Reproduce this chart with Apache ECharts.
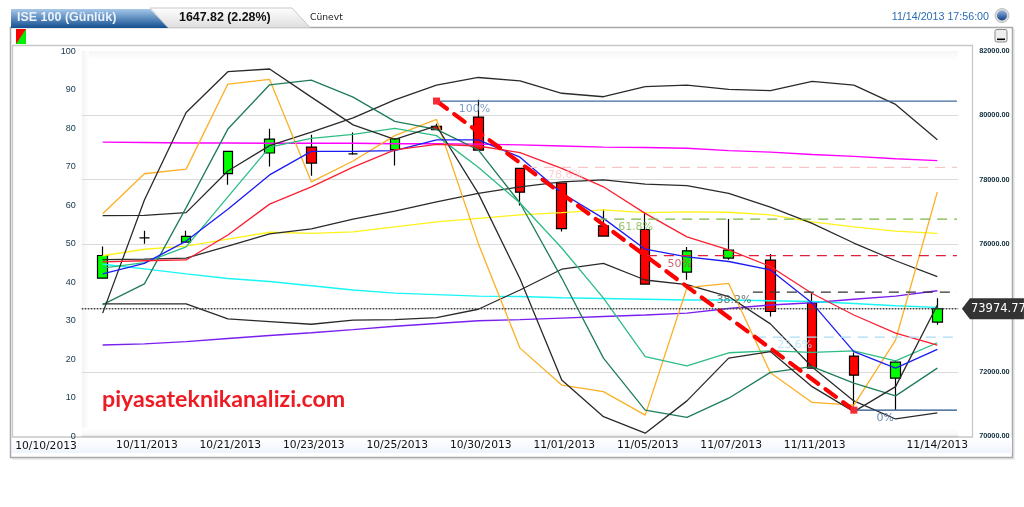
<!DOCTYPE html>
<html>
<head>
<meta charset="utf-8">
<title>ISE 100</title>
<style>
  html, body { margin: 0; padding: 0; background: #fff; }
  #chart { width: 1024px; height: 507px; }
</style>
<script src="https://cdn.jsdelivr.net/npm/echarts@6/dist/echarts.min.js"></script>
</head>
<body>
<div id="chart"></div>
<script>
const dates = ["10/10/2013","10/11/2013","10/14/2013","10/21/2013","10/22/2013","10/23/2013","10/24/2013",
  "10/25/2013","10/28/2013","10/30/2013","10/31/2013","11/01/2013","11/04/2013","11/05/2013","11/06/2013",
  "11/07/2013","11/08/2013","11/11/2013","11/12/2013","11/13/2013","11/14/2013"];
const shownDates = ["10/11/2013","10/21/2013","10/23/2013","10/25/2013","10/30/2013","11/01/2013","11/05/2013",
  "11/07/2013","11/11/2013","11/14/2013"];

// open, close, low, high (fiyat ekseni)
const candles = [
  [74930,75635,74930,75915],[76185,76185,76000,76405],[76055,76230,76055,76405],[78185,78880,77840,78880],
  [78830,79265,78410,79585],[79015,78515,78120,79400],[78805,78805,78775,79470],[78940,79275,78440,79275],
  [79660,79555,79555,79740],[79950,78920,78920,80490],[78350,77610,77195,78350],[77895,76475,76385,77895],
  [76560,76240,76240,77080],[76445,74745,74745,76965],[75120,75780,74880,75900],[75555,75805,75500,76770],
  [75490,73890,73735,75680],[74160,72125,72125,74465],[72500,71905,70925,72610],[71815,72310,70825,72360],
  [73560,73975,73475,74305]
];
const lastPrice = 73974.77;

// indikatorler (0-100 ekseni)
const bandUpper = [57.3,57.4,58.1,68.9,75.5,79.0,82.7,87.4,91.2,93.2,92.3,89.1,88.2,90.8,91.2,90.1,89.8,92.2,91.2,86.2,77.0];
const bandLower = [34.4,34.4,34.4,30.5,29.8,29.1,30.2,30.3,30.8,33.0,38.0,43.4,44.9,40.6,39.4,36.3,29.2,18.0,9.2,4.5,6.1];
const bandMid = [45.9,46.0,46.3,49.4,52.6,53.9,56.4,58.5,60.9,63.1,64.8,66.1,66.6,65.5,65.1,63.1,59.5,55.3,50.2,45.6,41.5];
const fastBlack = [32.0,61.4,84.1,94.7,95.4,88.1,80.9,77.1,80.6,63.1,40.9,14.6,5.1,0.8,9.2,20.3,22.0,12.9,6.4,12.9,34.1];
const fastOrange = [57.8,68.2,69.4,91.5,92.7,66.1,71.5,78.1,82.3,50.1,22.9,13.3,11.6,5.5,38.6,39.7,16.5,8.8,8.1,25.0,63.5];
const darkGreen = [34.2,39.6,59.4,79.8,91.3,92.5,88.1,81.8,79.7,74.4,60.6,41.1,20.3,6.8,4.9,9.9,16.6,18.1,13.8,10.5,17.7];
const midGreen = [43.7,45.1,49.2,62.2,75.1,77.4,78.4,80.0,78.1,69.9,60.6,48.9,35.9,20.7,18.3,21.7,22.2,21.8,22.2,19.6,24.3];
const blueLine = [42.2,44.9,50.7,59.0,67.9,74.0,74.0,74.2,77.0,77.0,72.5,63.2,56.6,48.6,46.6,45.4,43.2,34.6,22.0,17.7,22.6];
const redLine = [45.3,45.6,45.8,52.3,60.3,64.8,69.9,74.4,75.8,75.4,73.7,69.6,64.8,57.9,51.8,48.4,44.1,37.1,31.5,26.8,23.7];
const yellowLine = [46.9,48.6,49.4,51.2,53.0,52.7,53.1,54.4,55.7,56.6,57.5,58.1,58.8,58.1,58.3,58.2,57.5,55.7,54.4,53.3,52.7];
const cyanLine = [44.7,43.5,42.2,41.0,40.2,39.1,38.0,37.2,36.8,36.4,36.3,36.0,35.8,35.6,35.4,35.4,35.2,35.0,34.5,33.9,33.5];
const magentaLine = [76.4,76.3,76.2,76.2,76.1,76.1,76.1,76.0,76.0,75.9,75.7,75.4,75.1,75.0,74.8,74.2,73.8,73.2,72.7,72.1,71.6];
const purpleLine = [23.7,24.0,24.6,25.4,26.2,26.9,27.7,28.6,29.3,30.0,30.3,30.7,31.1,31.5,32.0,33.2,34.1,34.7,35.6,36.4,37.8];

// fibonacci seviyeleri
const fibLabels = ["100%","78.6%","61.8%","50%","38.2%","23.6%","0%"];
const fibPrices = [80450,78380,76770,75630,74495,73090,70815];
const fibStarts = [8,10.17,11.85,13.04,15.58,15.65,18];
const fibLabelAt = [8.91,11.09,12.77,13.83,15.13,16.58,18.75];
const fibEnd = 20.47;

const fibColors = ["#3f6a9e","#f6c6c8","#7ab648","#e0203a","#333333","#a8dcf5","#1f4f86"];
const fibTextColors = ["#5f86b5","#f6c6c8","#7ab648","#c2404f","#555555","#b4e0f5","#44709f"];

const wrap = (name, data, color, width) => ({
  name, type: "line", data, xAxisIndex: 0, yAxisIndex: 0, showSymbol: false, silent: true,
  lineStyle: { color, width: width || 1.3 }, z: 4,
});

const series = [
  {
    name: "ISE 100", type: "candlestick", data: candles, xAxisIndex: 0, yAxisIndex: 1, barWidth: 10, z: 3,
    itemStyle: { color: "#00ff00", color0: "#ff0000", borderColor: "#000", borderColor0: "#000", borderColorDoji: "#000", borderWidth: 1.2 },
  },
  wrap("magenta", magentaLine, "#ff00ff", 1.4),
  wrap("purple", purpleLine, "#7a1ff0", 1.4),
  wrap("cyan", cyanLine, "#19f5f5", 1.4),
  wrap("yellow", yellowLine, "#fff21a", 1.4),
  wrap("upper", bandUpper, "#2a2a2a"),
  wrap("mid", bandMid, "#2a2a2a"),
  wrap("lower", bandLower, "#2a2a2a"),
  wrap("orange", fastOrange, "#fbb024"),
  wrap("green", darkGreen, "#1f7d58"),
  wrap("green2", midGreen, "#2dbd84"),
  wrap("black", fastBlack, "#2a2a2a"),
  wrap("blue", blueLine, "#1c1cf5"),
  wrap("red", redLine, "#fa2033"),
];

fibPrices.forEach((p, i) => {
  const solid = i === 0 || i === fibPrices.length - 1;
  series.push({
    name: fibLabels[i], type: "line", xAxisIndex: 1, yAxisIndex: 1, silent: true, showSymbol: false, z: 5,
    data: [[fibStarts[i], p], [fibEnd, p]],
    lineStyle: { color: fibColors[i], width: 1.3, type: solid ? "solid" : [10, 7] },
  });
  series.push({
    name: fibLabels[i] + " label", type: "scatter", xAxisIndex: 1, yAxisIndex: 1, silent: true, symbolSize: 0, z: 6,
    data: [[fibLabelAt[i], p]],
    label: {
      show: true, position: "inside", offset: [0, 8], formatter: fibLabels[i],
      color: fibTextColors[i], fontFamily: "DejaVu Sans", fontSize: 11,
    },
  });
});

// kesik kirmizi trend
series.push({
  name: "trend", type: "line", xAxisIndex: 1, yAxisIndex: 1, silent: true, z: 7,
  data: [[8, fibPrices[0]], [18, fibPrices[fibPrices.length - 1]]],
  symbol: "rect", symbolSize: 7, showSymbol: true, itemStyle: { color: "#f52a35" },
  lineStyle: { color: "#ff0000", width: 4.2, type: [13, 9], cap: "round" },
});

// son fiyat cizgisi ve etiketi
series.push({
  name: "last", type: "line", xAxisIndex: 1, yAxisIndex: 1, silent: true, showSymbol: false, z: 8,
  data: [[-0.5, lastPrice], [20.5, lastPrice]],
  lineStyle: { color: "#444", width: 1.4, type: [1.5, 1.5] },
  markPoint: {
    silent: true, z: 20,
    symbol: "path://M0 10 L8 0 L62 0 L62 20 L8 20 Z", symbolSize: [62, 21], symbolOffset: [36, 0],
    itemStyle: { color: "#333" },
    label: {
      show: true, position: "insideLeft", distance: 9, formatter: "73974.77",
      color: "#fff", fontFamily: "DejaVu Sans", fontSize: 11.5,
    },
    data: [{ coord: [20.47, lastPrice] }],
  },
});

const shade = (x, y, width, height, vertical, from) => ({
  type: "rect", z: -5, silent: true, shape: { x, y, width, height },
  style: {
    fill: new echarts.graphic.LinearGradient(0, 0, vertical ? 0 : 1, vertical ? 1 : 0,
      [{ offset: 0, color: from }, { offset: 1, color: "#ffffff" }]),
  },
});

const graphic = [
  // dis cerceve
  { type: "rect", z: -12, silent: true, shape: { x: 12, y: 29, width: 1003, height: 431 }, style: { fill: "#ececec" } },
  { type: "rect", z: -11, silent: true, shape: { x: 10.5, y: 27.5, width: 1002, height: 430 }, style: { fill: "#fff", stroke: "#a9a9a9", lineWidth: 1.5 } },
  // ic cerceve
  { type: "rect", z: -9, silent: true, shape: { x: 12.5, y: 45.5, width: 960, height: 391.5 }, style: { fill: "#fff", stroke: "#c8c8c8", lineWidth: 1.3 } },
  shade(82, 51, 876, 9, true, "#f6f6f6"),
  shade(82, 51, 7, 385, false, "#f4f4f4"),
  { type: "rect", z: -5, silent: true, shape: { x: 82, y: 428, width: 876, height: 8 },
    style: { fill: new echarts.graphic.LinearGradient(0, 0, 0, 1, [{ offset: 0, color: "#ffffff" }, { offset: 1, color: "#f6f6f6" }]) } },
  // tarih seridi
  { type: "rect", z: -8, silent: true, shape: { x: 12, y: 438, width: 1000, height: 15 },
    style: { fill: new echarts.graphic.LinearGradient(0, 0, 0, 1, [{ offset: 0, color: "#ffffff" }, { offset: 1, color: "#eff4fc" }]) } },
  // sekmeler
  { type: "polygon", z: -3, silent: true, shape: { points: [[150, 8], [292, 8], [310, 27.5], [168, 27.5]] },
    style: { fill: new echarts.graphic.LinearGradient(0, 0, 0, 1, [{ offset: 0, color: "#ffffff" }, { offset: 1, color: "#dedede" }]), stroke: "#c8c8c8", lineWidth: 1 } },
  { type: "polygon", z: -2, silent: true, shape: { points: [[11, 9], [150, 9], [168, 28], [11, 28]] },
    style: { fill: new echarts.graphic.LinearGradient(0, 0, 0, 1, [{ offset: 0, color: "#a6c8ea" }, { offset: 1, color: "#134f90" }]) } },
  { type: "text", silent: true, style: { x: 17, y: 17.5, text: "ISE 100 (Günlük)", fill: "#eaf2fb", font: "bold 12.5px 'Liberation Sans'", textVerticalAlign: "middle" } },
  { type: "text", silent: true, style: { x: 179, y: 17.5, text: "1647.82 (2.28%)", fill: "#111", font: "bold 12.4px 'Liberation Sans'", textVerticalAlign: "middle" } },
  { type: "text", silent: true, style: { x: 310, y: 17.5, text: "Cünevt", fill: "#222", font: "9.2px 'DejaVu Sans'", textVerticalAlign: "middle" } },
  { type: "text", silent: true, style: { x: 989, y: 17.5, text: "11/14/2013 17:56:00", fill: "#2a6cb0", font: "10.7px 'Liberation Sans'", textAlign: "right", textVerticalAlign: "middle" } },
  // sag ust dugme
  { type: "circle", silent: true, shape: { cx: 1002, cy: 15.5, r: 7 }, style: { fill: "#dcdcdc", stroke: "#c0c0c0", lineWidth: 1 } },
  { type: "circle", silent: true, shape: { cx: 1002, cy: 15.5, r: 5 },
    style: { fill: new echarts.graphic.LinearGradient(0, 0, 0, 1, [{ offset: 0, color: "#8fb4e0" }, { offset: 1, color: "#123f85" }]) } },
  { type: "rect", silent: true, shape: { x: 995, y: 29.5, width: 12, height: 12.5, r: 2 }, style: { fill: "#efefef", stroke: "#8a8a8a", lineWidth: 1 } },
  { type: "rect", silent: true, shape: { x: 997, y: 38.5, width: 8, height: 1.6 }, style: { fill: "#000" } },
  // kirmizi yesil simge
  { type: "polygon", silent: true, shape: { points: [[16, 29], [26, 29], [26, 44], [16, 44]] }, style: { fill: "#00ee00" } },
  { type: "polygon", silent: true, shape: { points: [[16, 29], [26, 29], [16, 44]] }, style: { fill: "#ff0000" } },
  // filigran ve ilk tarih
  { type: "text", z: 9, silent: true, style: { x: 102, y: 400, text: "piyasateknikanalizi.com", fill: "#ed1c24", font: "bold 23.2px Lato", textVerticalAlign: "middle" } },
  { type: "text", silent: true, style: { x: 46, y: 446, text: dates[0], fill: "#111", font: "10.7px 'DejaVu Sans'", textAlign: "center", textVerticalAlign: "middle" } },
];

const dateText = { color: "#111", fontFamily: "DejaVu Sans", fontSize: 10.7 };

const chart = echarts.init(document.getElementById("chart"), null, { renderer: "canvas" });
chart.setOption({
  animation: false,
  backgroundColor: "#ffffff",
  grid: { left: 81.8, width: 876.4, top: 51.3, height: 385 },
  xAxis: [
    {
      type: "category", data: dates, boundaryGap: true,
      axisLine: { show: true, lineStyle: { color: "#c8c8c8", width: 1.3 } }, axisTick: { show: false }, splitLine: { show: false },
      axisLabel: {
        interval: (i, v) => shownDates.includes(v), hideOverlap: false, margin: 3,
        ...dateText,
        formatter: (v) => (v === dates[dates.length - 1] ? `{last|${v}}` : `{shift|${v}}`),
        rich: { last: { ...dateText }, shift: { ...dateText, padding: [0, 0, 0, 5] } },
      },
    },
    { type: "value", show: false, min: -0.5, max: 20.5, splitLine: { show: false } },
  ],
  yAxis: [
    {
      type: "value", position: "left", min: 0, max: 100, interval: 10,
      axisLine: { show: false }, axisTick: { show: false }, splitLine: { show: false },
      axisLabel: { margin: 6, color: "#12344a", fontFamily: "Liberation Sans", fontSize: 9 },
    },
    {
      type: "value", position: "right", min: 70000, max: 82000, interval: 2000,
      axisLine: { show: false }, axisTick: { show: false },
      splitLine: { show: true, showMinLine: false, showMaxLine: false, lineStyle: { color: "#dadada", width: 1 } },
      axisLabel: {
        margin: 21, color: "#0d2b3a", fontFamily: "Liberation Sans", fontWeight: "bold", fontSize: 7.3,
        padding: [0, 0, 4, 0], formatter: (v) => v.toFixed(2),
      },
    },
  ],
  tooltip: { show: false },
  series,
  graphic,
});
</script>
</body>
</html>
